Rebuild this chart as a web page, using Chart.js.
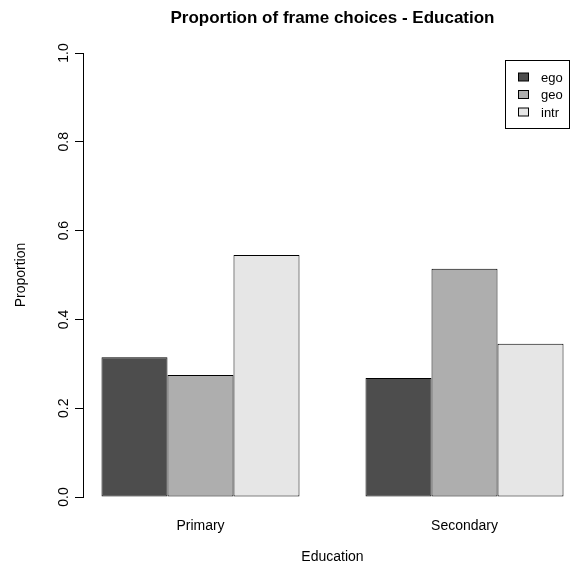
<!DOCTYPE html>
<html>
<head>
<meta charset="utf-8">
<title>Proportion of frame choices - Education</title>
<script src="https://cdn.jsdelivr.net/npm/chart.js@4.4.1/dist/chart.umd.min.js"></script>
<style>
  html, body { margin: 0; padding: 0; background: #fff; overflow: hidden; }
  #wrap { width: 570px; height: 567px; overflow: hidden; }
</style>
</head>
<body>
<div id="wrap"><canvas id="chart" width="600" height="567"></canvas></div>
<script>
const categories = ['Primary', 'Secondary'];
const frames = ['ego', 'geo', 'intr'];
const ego = [0.315, 0.268];
const geo = [0.275, 0.514];
const intr = [0.545, 0.345];
const yTicks = [0, 0.2, 0.4, 0.6, 0.8, 1.0];
const frameColors = ['#4D4D4D', '#AEAEAE', '#E6E6E6'];

const FONT = '"Liberation Sans", Arial, Helvetica, sans-serif';

// barplot(beside = TRUE): every group is preceded by a one-bar gap,
// so group centres fall at 2.5 and 6.5 and the range is padded by 4%
const groupSize = frames.length + 1;
const groupCentre = i => i * groupSize + 1 + frames.length / 2;
const xLo = 1;
const xHi = categories.length * groupSize;
const xPad = (xHi - xLo) * 0.04;

const seriesValues = [ego, geo, intr];
const datasets = frames.map((name, k) => ({
    label: name,
    data: seriesValues[k].map((v, i) => ({ x: groupCentre(i), y: v })),
    backgroundColor: frameColors[k],
    borderColor: '#000',
    borderWidth: 1,
    borderSkipped: false,
    categoryPercentage: frames.length / groupSize,
    barPercentage: 1.0
}));

// R style legend box in the top right corner
const rLegend = {
    id: 'rLegend',
    afterDraw(chart) {
        const { ctx, chartArea } = chart;
        const right = chartArea.right - 13;
        const w = 64, h = 68, top = 60;
        const left = right - w;
        ctx.save();
        ctx.fillStyle = '#fff';
        ctx.fillRect(left, top, w, h);
        ctx.strokeStyle = '#000';
        ctx.lineWidth = 1;
        ctx.strokeRect(left + 0.5, top + 0.5, w, h);
        ctx.font = '13px ' + FONT;
        ctx.textBaseline = 'middle';
        ctx.textAlign = 'left';
        chart.data.datasets.forEach((ds, i) => {
            const cy = top + 17 + i * 17.5;
            ctx.fillStyle = ds.backgroundColor;
            ctx.fillRect(left + 13.5, cy - 4, 10, 8);
            ctx.strokeRect(left + 13.5, cy - 4, 10, 8);
            ctx.fillStyle = '#000';
            ctx.fillText(ds.label, left + 36, cy + 1);
        });
        ctx.restore();
    }
};

new Chart(document.getElementById('chart'), {
    type: 'bar',
    data: { datasets },
    plugins: [rLegend],
    options: {
        responsive: false,
        animation: false,
        layout: { padding: { top: 0, right: 18, bottom: 0, left: 0 } },
        plugins: {
            legend: { display: false },
            tooltip: { enabled: false },
            title: {
                display: true,
                fullSize: false,
                text: 'Proportion of frame choices - Education',
                color: '#000',
                font: { family: FONT, size: 17, weight: 'bold', lineHeight: 1.2 },
                padding: { top: 8, bottom: 24.6 }
            }
        },
        scales: {
            x: {
                type: 'linear',
                offset: false,
                min: xLo - xPad,
                max: xHi + xPad,
                afterBuildTicks: scale => {
                    scale.ticks = categories.map((c, i) => ({ value: groupCentre(i) }));
                },
                afterFit: scale => { scale.height = 70; },
                grid: { display: false, drawTicks: false },
                border: { display: false },
                ticks: {
                    color: '#000',
                    padding: 20.5,
                    font: { family: FONT, size: 14 },
                    callback: v => {
                        const i = categories.findIndex((c, j) => groupCentre(j) === v);
                        return i >= 0 ? categories[i] : '';
                    }
                },
                title: {
                    display: true,
                    text: 'Education',
                    color: '#000',
                    font: { family: FONT, size: 14 },
                    padding: { top: 0, bottom: 1 }
                }
            },
            y: {
                min: 0,
                max: 1,
                afterBuildTicks: scale => {
                    scale.ticks = yTicks.map(v => ({ value: v }));
                },
                afterFit: scale => { scale.width = 83; },
                grid: {
                    drawOnChartArea: false,
                    drawTicks: true,
                    tickLength: 8,
                    color: '#000'
                },
                border: { display: true, color: '#000', width: 1 },
                ticks: {
                    color: '#000',
                    padding: 1,
                    minRotation: 90,
                    maxRotation: 90,
                    crossAlign: 'center',
                    font: { family: FONT, size: 14 },
                    callback: v => v.toFixed(1)
                },
                title: {
                    display: true,
                    text: 'Proportion',
                    color: '#000',
                    font: { family: FONT, size: 14 },
                    padding: { top: 13, bottom: 0 }
                }
            }
        }
    }
});
</script>
</body>
</html>
